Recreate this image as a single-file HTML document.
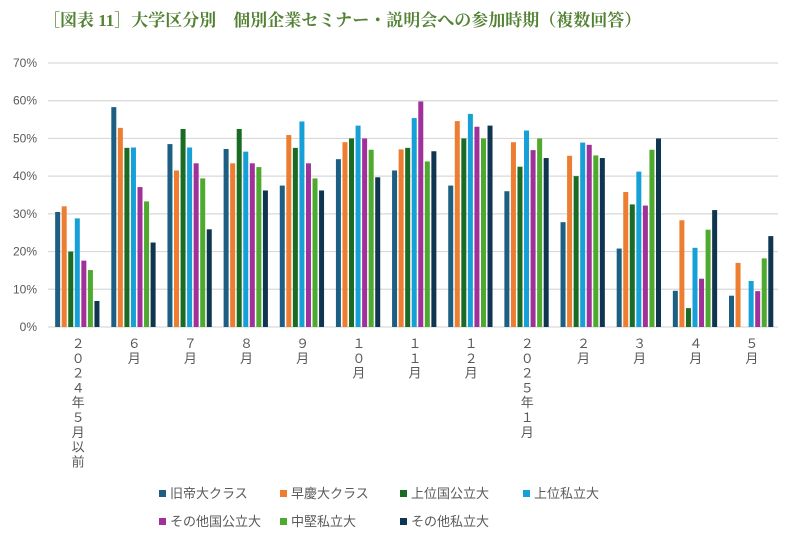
<!DOCTYPE html>
<html><head><meta charset="utf-8">
<style>
body{margin:0;background:#fff;width:787px;height:541px;overflow:hidden;font-family:"Liberation Sans","Noto Sans CJK JP",sans-serif;}
#title{position:absolute;left:43px;top:6px;font-family:"Liberation Serif","Noto Serif CJK SC",serif;font-weight:bold;font-size:17px;color:#548235;white-space:nowrap;}
</style></head><body>
<div id="title">［図表 11］大学区分別　個別企業セミナー・説明会への参加時期（複数回答）</div>
<svg id="chart" width="787" height="541" style="position:absolute;left:0;top:0"></svg>
<script>
const categories=["２０２４年５月以前","６月","７月","８月","９月","１０月","１１月","１２月","２０２５年１月","２月","３月","４月","５月"];
const seriesNames=["旧帝大クラス","早慶大クラス","上位国公立大","上位私立大","その他国公立大","中堅私立大","その他私立大"];
const s1=[30.5,58.3,48.5,47.2,37.5,44.5,41.5,37.5,36,27.8,20.8,9.6,8.3];
const s2=[32,52.8,41.5,43.4,50.9,49,47.1,54.6,49,45.4,35.8,28.3,17];
const s3=[20,47.5,52.5,52.5,47.5,50,47.5,50,42.5,40,32.5,5,0];
const s4=[28.8,47.6,47.6,46.5,54.5,53.4,55.4,56.5,52.1,48.9,41.2,21,12.2];
const s5=[17.6,37.1,43.4,43.4,43.4,50,59.8,53.1,46.9,48.3,32.2,12.8,9.5];
const s6=[15.1,33.3,39.4,42.4,39.4,47,43.9,50,50,45.5,47,25.8,18.2];
const s7=[6.9,22.4,25.9,36.2,36.2,39.7,46.6,53.4,44.8,44.8,50,31,24.1];
const yTicks=[0,10,20,30,40,50,60,70];
const series=[s1,s2,s3,s4,s5,s6,s7];
const colors=["#1c5f82","#ed7d31","#1a6b23","#16a0d8","#a0319a","#4eaa2e","#0f3550"];
const NS="http://www.w3.org/2000/svg";
const svg=document.getElementById('chart');
const x0=50,x1=780,y0=327,yTop=63;
const y=v=>y0-(v/70)*(y0-yTop);
const gw=(x1-x0)/categories.length;
const gx=i=>x0+gw*i;
function mk(t,a){const e=document.createElementNS(NS,t);for(const k in a)e.setAttribute(k,a[k]);svg.appendChild(e);return e;}
yTicks.forEach(t=>{
 const l=mk('line',{x1:48,x2:778,y1:y(t),y2:y(t),stroke:'#d9d9d9','stroke-width':1.2});
 
 
 const tx=mk('text',{x:37,y:y(t)+4,'text-anchor':'end','font-size':12,fill:'#595959'});
 tx.textContent=t+'%';
 
 
});
const bw=5,step=6.55;
series.forEach((s,si)=>{
 s.forEach((v,i)=>{
  const bx=gx(i)+(gw-step*7)/2+si*step;
  const r=mk('rect',{x:bx,y:y(v),width:bw,height:y0-y(v),fill:colors[si]});
  
  
 });
});
categories.forEach((c,i)=>{
 const cx=gx(i)+gw/2;
 const t=mk('text',{x:cx,y:348,'text-anchor':'middle','font-size':13,fill:'#595959'});
 
 
 [...c].forEach((ch,k)=>{const sp=document.createElementNS(NS,'tspan');sp.setAttribute('x',cx);sp.setAttribute('y',348+k*14.8);sp.textContent=ch;t.appendChild(sp);});
});
const legPos=[[159,495],[280,495],[400,495],[523,495],[159,523],[280,523],[400,523]];
seriesNames.forEach((n,i)=>{
 const [lx,ly]=legPos[i];
 const r=mk('rect',{x:lx,y:ly-5,width:7,height:7,fill:colors[i]});
 
 
 const t=mk('text',{x:lx+11,y:ly+3,'font-size':13,fill:'#595959'});
 t.textContent=n;
 
 
});
</script>
</body></html>
